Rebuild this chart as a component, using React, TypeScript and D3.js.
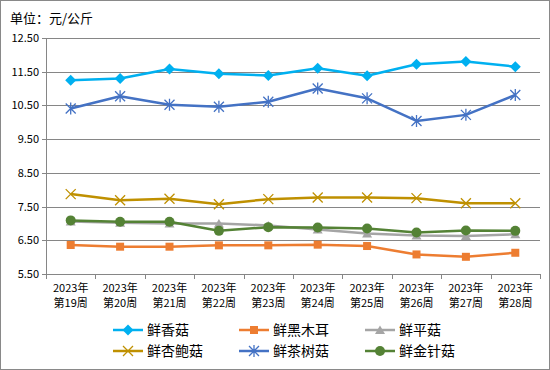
import * as d3 from "d3";

const weeks = ["第19周", "第20周", "第21周", "第22周", "第23周", "第24周", "第25周", "第26周", "第27周", "第28周"];
const yearLabel = "2023年";
const yTicks = [5.5, 6.5, 7.5, 8.5, 9.5, 10.5, 11.5, 12.5];

const xiangGu = [11.25, 11.3, 11.58, 11.44, 11.39, 11.6, 11.38, 11.72, 11.8, 11.65];
const heiMuEr = [6.36, 6.31, 6.31, 6.35, 6.35, 6.37, 6.33, 6.08, 6.01, 6.13];
const pingGu = [7.06, 7.02, 7.0, 7.0, 6.94, 6.82, 6.7, 6.64, 6.63, 6.68];
const xingBaoGu = [7.87, 7.69, 7.73, 7.57, 7.72, 7.77, 7.77, 7.75, 7.6, 7.6];
const chaShuGu = [10.41, 10.77, 10.52, 10.46, 10.61, 11.0, 10.71, 10.04, 10.22, 10.81];
const jinZhenGu = [7.09, 7.05, 7.05, 6.78, 6.89, 6.88, 6.85, 6.73, 6.79, 6.78];

type Marker = "diamond" | "square" | "triangle" | "x" | "asterisk" | "circle";
type Series = { name: string; values: number[]; color: string; marker: Marker };

const series: Series[] = [
  { name: "鲜香菇", values: xiangGu, color: "#00B0F0", marker: "diamond" },
  { name: "鲜黑木耳", values: heiMuEr, color: "#ED7D31", marker: "square" },
  { name: "鲜平菇", values: pingGu, color: "#A5A5A5", marker: "triangle" },
  { name: "鲜杏鲍菇", values: xingBaoGu, color: "#BF9000", marker: "x" },
  { name: "鲜茶树菇", values: chaShuGu, color: "#4472C4", marker: "asterisk" },
  { name: "鲜金针菇", values: jinZhenGu, color: "#548235", marker: "circle" },
];

const W = 550;
const H = 370;
const left = 46;
const right = 540;
const top = 38;
const bottom = 274;
const font = "'Noto Sans CJK SC', 'Noto Sans', sans-serif";

function MarkerShape({ type, cx, cy, color }: { type: Marker; cx: number; cy: number; color: string }) {
  switch (type) {
    case "diamond":
      return <path d={`M${cx},${cy - 5.5}L${cx + 5.5},${cy}L${cx},${cy + 5.5}L${cx - 5.5},${cy}Z`} fill={color} />;
    case "square":
      return <rect x={cx - 4} y={cy - 4} width={8} height={8} fill={color} />;
    case "triangle":
      return <path d={`M${cx},${cy - 4.5}L${cx + 5},${cy + 4}L${cx - 5},${cy + 4}Z`} fill={color} />;
    case "circle":
      return <circle cx={cx} cy={cy} r={5} fill={color} />;
    case "x":
      return (
        <path
          d={`M${cx - 5},${cy - 5}L${cx + 5},${cy + 5}M${cx - 5},${cy + 5}L${cx + 5},${cy - 5}`}
          stroke={color}
          strokeWidth={1.3}
        />
      );
    case "asterisk":
      return (
        <path
          d={`M${cx - 5},${cy - 5}L${cx + 5},${cy + 5}M${cx - 5},${cy + 5}L${cx + 5},${cy - 5}M${cx},${cy - 6}L${cx},${cy + 6}`}
          stroke={color}
          strokeWidth={1.3}
        />
      );
  }
}

export default function App() {
  const x = d3.scaleBand().domain(weeks).range([left, right]);
  const y = d3.scaleLinear().domain([5.5, 12.5]).range([bottom, top]);
  const line = d3
    .line<number>()
    .x((_, i) => (x(weeks[i]) ?? 0) + x.bandwidth() / 2)
    .y((d) => y(d));

  const legendCols = [113, 239, 365];
  const legendRows = [330, 351];

  return (
    <svg
      width={W}
      height={H}
      style={{ position: "absolute", left: 0, top: 0, background: "#fff" }}
      fontFamily={font}
    >
      <rect x={0.5} y={0.5} width={W - 1} height={H - 1} fill="#fff" stroke="#898989" />
      <text x={10} y={23} fontSize={13}>单位：元/公斤</text>

      {yTicks.map((t) => (
        <g key={t}>
          <line x1={left - 4} x2={right} y1={Math.round(y(t)) + 0.5} y2={Math.round(y(t)) + 0.5} stroke="#868686" />
          <text x={39} y={y(t) + 4} fontSize={11} textAnchor="end">
            {t.toFixed(2)}
          </text>
        </g>
      ))}
      <line x1={left + 0.5} x2={left + 0.5} y1={top} y2={bottom} stroke="#868686" />
      {[...weeks.map((w) => x(w) ?? 0), right].map((b, i) => (
        <line key={i} x1={Math.round(b) + 0.5} x2={Math.round(b) + 0.5} y1={bottom} y2={bottom + 5} stroke="#868686" />
      ))}
      {weeks.map((w) => {
        const cx = (x(w) ?? 0) + x.bandwidth() / 2;
        return (
          <text key={w} x={cx} fontSize={11} textAnchor="middle">
            <tspan x={cx} y={292}>{yearLabel}</tspan>
            <tspan x={cx} y={307}>{w}</tspan>
          </text>
        );
      })}

      {series.map((s) => (
        <g key={s.name}>
          <path d={line(s.values) ?? ""} fill="none" stroke={s.color} strokeWidth={2.5} strokeLinejoin="round" />
          {s.values.map((v, i) => (
            <MarkerShape key={i} type={s.marker} cx={(x(weeks[i]) ?? 0) + x.bandwidth() / 2} cy={y(v)} color={s.color} />
          ))}
        </g>
      ))}

      {series.map((s, i) => {
        const lx = legendCols[i % 3];
        const ly = legendRows[Math.floor(i / 3)];
        return (
          <g key={s.name}>
            <line x1={lx} x2={lx + 30} y1={ly} y2={ly} stroke={s.color} strokeWidth={2.5} />
            <MarkerShape type={s.marker} cx={lx + 15} cy={ly} color={s.color} />
            <text x={lx + 34} y={ly + 5} fontSize={14}>{s.name}</text>
          </g>
        );
      })}
    </svg>
  );
}
